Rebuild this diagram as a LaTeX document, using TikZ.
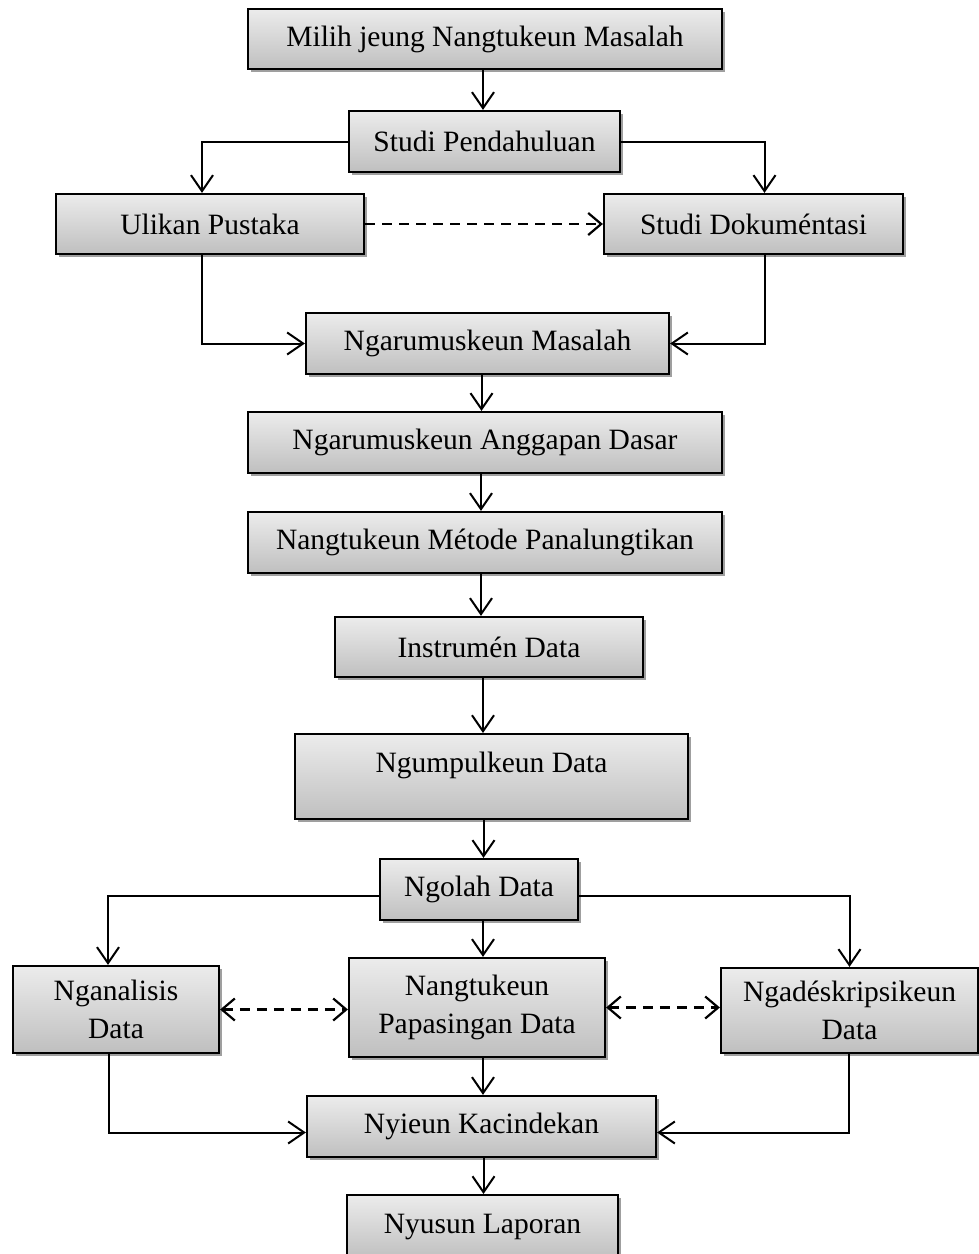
\documentclass[tikz,border=0pt]{standalone}
\usepackage{fontspec}
\setmainfont{Liberation Serif}
\usetikzlibrary{arrows.meta,shadows,calc}
\begin{document}
\begin{tikzpicture}[x=1pt,y=-1pt,
  font=\fontsize{29.5}{38}\selectfont,
  box/.style={draw=black, line width=2.2pt, top color=gray!15, bottom color=gray!50,
    inner sep=0pt, align=center,
    general shadow={fill=gray!75, shadow xshift=3pt, shadow yshift=-3pt}},
  arr/.style={line width=2pt, -{Straight Barb[length=16pt,width=22pt,line width=2pt]}},
  darr/.style={line width=2.2pt, dash pattern=on 10pt off 7pt,
    {Straight Barb[length=13pt,width=22pt,line width=2.2pt]}-{Straight Barb[length=13pt,width=22pt,line width=2.2pt]}},
  sarr/.style={line width=2.2pt, dash pattern=on 10pt off 7pt,
    -{Straight Barb[length=13pt,width=22pt,line width=2.2pt]}}]
\useasboundingbox (0,0) rectangle (979,1254);
\fill[white] (0,0) rectangle (979,1254);

\node[box, minimum width=474pt, minimum height=60pt] (milih) at (485,39) {Milih jeung Nangtukeun Masalah};
\node[box, minimum width=271pt, minimum height=61pt] (studi) at (484.5,141.5) {Studi Pendahuluan};
\node[box, minimum width=308pt, minimum height=60pt] (ulikan) at (210,224) {Ulikan Pustaka};
\node[box, minimum width=299pt, minimum height=60pt] (dok) at (753.5,224) {Studi Dokuméntasi};
\node[box, minimum width=363pt, minimum height=61pt] (masalah) at (487.5,343.5) {Ngarumuskeun Masalah};
\node[box, minimum width=474pt, minimum height=61pt] (anggapan) at (485,442.5) {Ngarumuskeun Anggapan Dasar};
\node[box, minimum width=474pt, minimum height=61pt] (metode) at (485,542.5) {Nangtukeun Métode Panalungtikan};
\node[box, minimum width=308pt, minimum height=60pt] (instrumen) at (489,647) {Instrumén Data};
\node[box, minimum width=393pt, text height=38pt, text depth=47pt, anchor=north] (ngumpul) at (491.5,733) {Ngumpulkeun Data};
\node[box, minimum width=198pt, minimum height=61pt] (ngolah) at (479,889.5) {Ngolah Data};
\node[box, minimum width=206pt, minimum height=87pt] (nganalisis) at (116,1009.5) {Nganalisis\\Data};
\node[box, minimum width=256pt, minimum height=99pt] (papasingan) at (477,1007.5) {Nangtukeun\\Papasingan Data};
\node[box, minimum width=257pt, minimum height=85pt] (ngades) at (849.5,1010.5) {Ngadéskripsikeun\\Data};
\node[box, minimum width=349pt, minimum height=61pt] (nyieun) at (481.5,1126.5) {Nyieun Kacindekan};
\node[box, minimum width=271pt, minimum height=64pt, anchor=north] (nyusun) at (482.5,1194) {Nyusun Laporan};

% connectors
\draw[arr] ([xshift=-2pt]milih.south) -- ([xshift=-2pt]milih.south |- studi.north);
\draw[arr] (studi.west) -| ([xshift=-8pt]ulikan.north);
\draw[arr] (studi.east) -| ([xshift=11pt]dok.north);
\draw[sarr] (ulikan.east) -- (dok.west);
\draw[arr] ([xshift=-8pt]ulikan.south) |- (masalah.west);
\draw[arr] ([xshift=11pt]dok.south) |- (masalah.east);
\draw[arr] ([xshift=-6pt]masalah.south) -- ([xshift=-6pt]masalah.south |- anggapan.north);
\draw[arr] ([xshift=-4pt]anggapan.south) -- ([xshift=-4pt]anggapan.south |- metode.north);
\draw[arr] ([xshift=-4pt]metode.south) -- ([xshift=-4pt]metode.south |- instrumen.north);
\draw[arr] ([xshift=-6pt]instrumen.south) -- ([xshift=-6pt]instrumen.south |- ngumpul.north);
\draw[arr] ([xshift=-8pt]ngumpul.south) -- ([xshift=-8pt]ngumpul.south |- ngolah.north);
\draw[arr] ([yshift=-6pt]ngolah.west) -| ([xshift=-8pt]nganalisis.north);
\draw[arr] ([yshift=-6pt]ngolah.east) -| (ngades.north);
\draw[arr] ([xshift=4pt]ngolah.south) -- ([xshift=4pt]ngolah.south |- papasingan.north);
\draw[darr] (nganalisis.east) -- (nganalisis.east -| papasingan.west);
\draw[darr] (papasingan.east) -- (papasingan.east -| ngades.west);
\draw[arr] ([xshift=6pt]papasingan.south) -- ([xshift=6pt]papasingan.south |- nyieun.north);
\draw[arr] ([xshift=-7pt]nganalisis.south) |- ([yshift=-6pt]nyieun.west);
\draw[arr] ([xshift=-0.5pt]ngades.south) |- ([yshift=-6pt]nyieun.east);
\draw[arr] ([xshift=2pt]nyieun.south) -- ([xshift=2pt]nyieun.south |- nyusun.north);
\end{tikzpicture}
\end{document}
